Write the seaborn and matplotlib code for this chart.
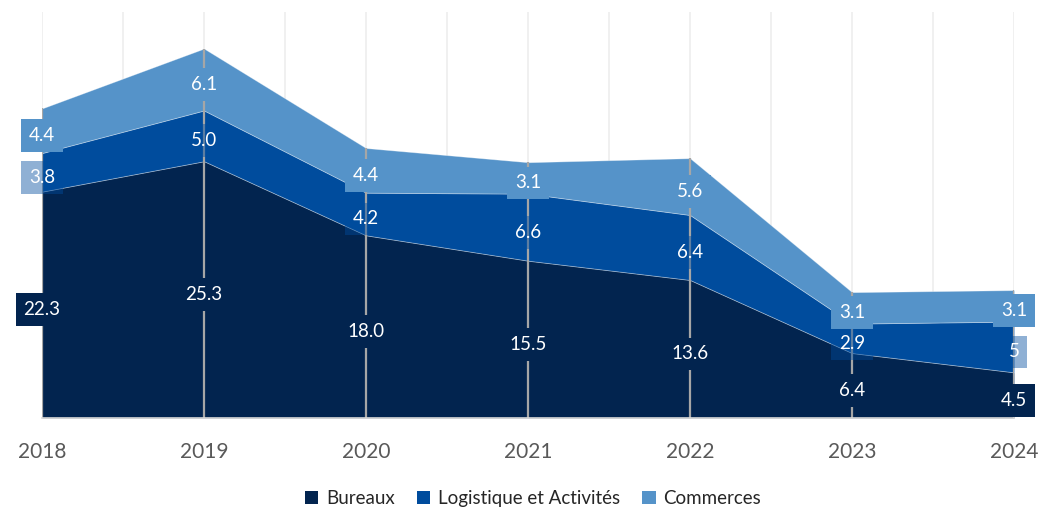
import matplotlib
matplotlib.use("Agg")
import matplotlib.pyplot as plt
from matplotlib.patches import Patch
from matplotlib.transforms import offset_copy
import seaborn as sns
import pandas as pd
import numpy as np

years = [2018, 2019, 2020, 2021, 2022, 2023, 2024]
bureaux = [22.3, 25.3, 18.0, 15.5, 13.6, 6.4, 4.5]
logistique = [3.8, 5.0, 4.2, 6.6, 6.4, 2.9, 5]
commerces = [4.4, 6.1, 4.4, 3.1, 5.6, 3.1, 3.1]
label_text = {
    "Bureaux": ["22.3", "25.3", "18.0", "15.5", "13.6", "6.4", "4.5"],
    "Logistique et Activités": ["3.8", "5.0", "4.2", "6.6", "6.4", "2.9", "5"],
    "Commerces": ["4.4", "6.1", "4.4", "3.1", "5.6", "3.1", "3.1"],
}

series_names = ["Bureaux", "Logistique et Activités", "Commerces"]
colors = ["#02244f", "#004c9d", "#5593c9"]
box_colors = [(0x02 / 255, 0x24 / 255, 0x4f / 255, 1.0),
              (0x00 / 255, 0x4c / 255, 0x9d / 255, 0.44),
              (0x55 / 255, 0x93 / 255, 0xc9 / 255, 1.0)]

df = pd.DataFrame({"year": years, "Bureaux": bureaux,
                   "Logistique et Activités": logistique,
                   "Commerces": commerces})

sns.set_theme(style="white")
plt.rcParams["font.family"] = ["Lato", "DejaVu Sans"]

fig = plt.figure(figsize=(10.4, 5.11), dpi=100)
ax = fig.add_axes([42 / 1040, 93 / 511, (1014 - 42) / 1040, (418 - 12) / 511])

# stacked areas
ax.stackplot(df["year"], [df[n] for n in series_names], colors=colors,
             edgecolor=(1, 1, 1, 0.35), linewidth=0.6, zorder=2)

# drop lines from each total down to the baseline
totals = df[series_names].sum(axis=1)
ax.vlines(df["year"], 0, totals, color="#a6a6a6", linewidth=1.6, zorder=3)

# value labels centred in each layer
label_tr = offset_copy(ax.transData, fig=fig, x=0, y=-5, units="dots")
cum = np.zeros(len(years))
for name, fc in zip(series_names, box_colors):
    vals = df[name].to_numpy()
    mids = cum + vals / 2
    for x, y, t in zip(years, mids, label_text[name]):
        ax.text(x, y, t, ha="center", va="center", color="white", fontsize=13.5,
                zorder=5, clip_on=False, transform=label_tr,
                bbox=dict(boxstyle="square,pad=0.42", facecolor=fc,
                          edgecolor="none"))
    cum = cum + vals

ax.set_xlim(2018, 2024)
ax.set_ylim(0, 40)
ax.set_xticks(years)
ax.set_xticks(np.arange(2018.5, 2024, 1.0), minor=True)
ax.set_xticklabels([str(y) for y in years], fontsize=15, color="#595959")
ax.set_yticks([])
ax.tick_params(axis="x", which="both", length=0, pad=17)
ax.grid(axis="x", which="both", color="#eeeeee", linewidth=1.2, zorder=0)
ax.set_axisbelow(True)
sns.despine(ax=ax, left=True, top=True, right=True)
ax.spines["bottom"].set_color("#d9d9d9")
ax.spines["bottom"].set_linewidth(1.2)
ax.spines["bottom"].set_zorder(4)

handles = [Patch(facecolor=c, edgecolor="none", label=n)
           for c, n in zip(colors, series_names)]
fig.legend(handles=handles, loc="center", bbox_to_anchor=(0.5125, 0.024),
           ncol=3, frameon=False, fontsize=13.5, handlelength=0.7,
           handleheight=0.7, handletextpad=0.4, columnspacing=1.2,
           labelcolor="#262626")

fig.savefig("out.png", dpi=100)
